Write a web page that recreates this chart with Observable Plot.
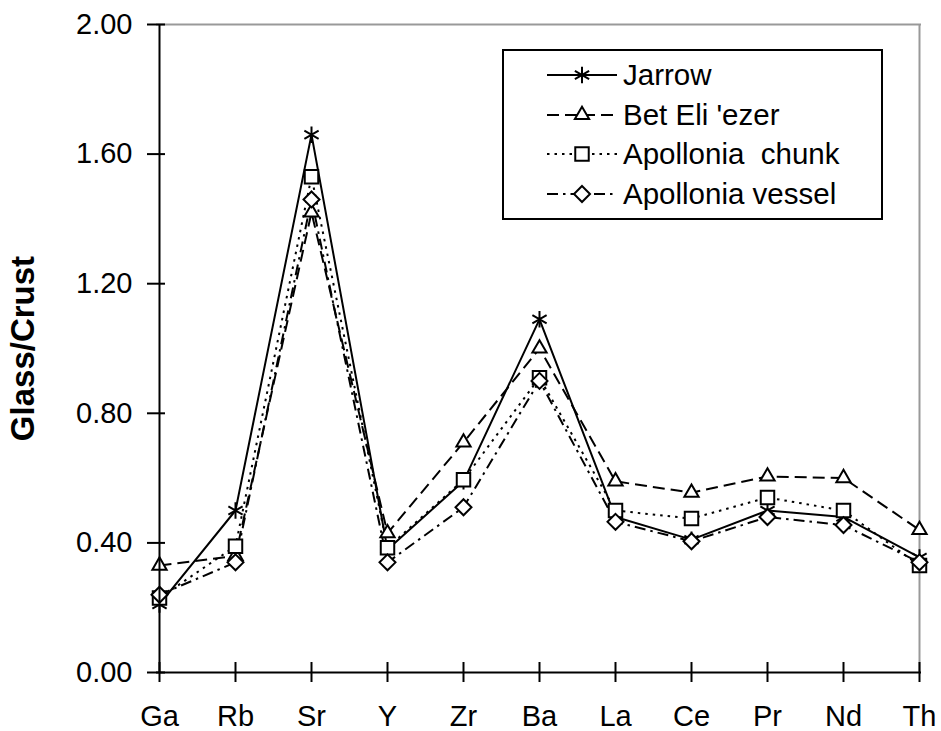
<!DOCTYPE html>
<html><head><meta charset="utf-8">
<script src="https://cdn.jsdelivr.net/npm/d3@7"></script>
<script src="https://cdn.jsdelivr.net/npm/@observablehq/plot@0.6"></script>
<style>
body{margin:0;background:#fff;}
#wrap{position:relative;width:941px;height:731px;font-family:"Liberation Sans",Arial,sans-serif;}
#legend{position:absolute;left:502px;top:49px;width:377px;height:167px;border:2px solid #000;background:#fff;}
.row{position:absolute;left:0;height:40px;width:100%;}
.row svg{position:absolute;left:43px;top:0;}
.row span{position:absolute;left:119px;top:3px;font-size:29.5px;line-height:34px;white-space:pre;color:#000;}
svg [aria-label="y-axis label"] text{font-weight:bold;font-size:33px;}
</style></head><body><div id="wrap"></div>
<script>
const elements = ["Ga","Rb","Sr","Y","Zr","Ba","La","Ce","Pr","Nd","Th"];
const jarrow          = [0.21,0.50,1.66,0.38,0.59,1.09,0.48,0.41,0.50,0.48,0.355];
const betEliezer      = [0.33,0.36,1.42,0.43,0.71,1.00,0.59,0.555,0.605,0.60,0.44];
const apolloniaChunk  = [0.23,0.39,1.53,0.385,0.595,0.91,0.50,0.475,0.54,0.50,0.33];
const apolloniaVessel = [0.24,0.34,1.46,0.34,0.51,0.90,0.465,0.405,0.48,0.455,0.34];
const seriesNames = ["Jarrow","Bet Eli 'ezer","Apollonia  chunk","Apollonia vessel"];
const yTicks = [0,0.4,0.8,1.2,1.6,2.0];

const seriesValues = [jarrow, betEliezer, apolloniaChunk, apolloniaVessel];
const table = [];
seriesNames.forEach((name, i) => elements.forEach((el, j) => table.push({series: name, element: el, value: seriesValues[i][j]})));

const styles = [
  {dash: null, symbol: "asterisk", d3sym: d3.symbolAsterisk, r: 7.8},
  {dash: "12,6", symbol: "triangle", d3sym: d3.symbolTriangle, r: 5.3},
  {dash: "2.5,5", symbol: "square", d3sym: d3.symbolSquare, r: 7.6},
  {dash: "11,5,2.5,5", symbol: "diamond2", d3sym: d3.symbolDiamond2, r: 7.2}
];

const marks = [
  Plot.ruleY([yTicks[yTicks.length-1]], {stroke: "#999", strokeWidth: 2}),
  Plot.ruleX([elements[elements.length-1]], {stroke: "#999", strokeWidth: 2})
];
seriesNames.forEach((name, i) => {
  marks.push(Plot.line(table.filter(d => d.series === name), {
    x: "element", y: "value", stroke: "#000", strokeWidth: 2,
    strokeDasharray: styles[i].dash, strokeLinecap: "butt"
  }));
});
seriesNames.forEach((name, i) => {
  marks.push(Plot.dot(table.filter(d => d.series === name), {
    x: "element", y: "value", symbol: styles[i].symbol, r: styles[i].r,
    stroke: "#000", strokeWidth: 2, fill: styles[i].symbol === "asterisk" ? "none" : "#fff"
  }));
});
marks.push(
  Plot.ruleX([elements[0]], {stroke: "#000", strokeWidth: 2}),
  Plot.ruleY([0], {stroke: "#000", strokeWidth: 2}),
  Plot.axisY({ticks: yTicks, tickSize: 18, dx: 9, strokeWidth: 2, tickFormat: () => "", label: null}),
  Plot.axisY({ticks: yTicks, tickSize: 0, tickPadding: 24, tickFormat: d => d.toFixed(2), fontSize: 29,
    label: "Glass/Crust", labelAnchor: "center", labelArrow: "none", labelOffset: 146}),
  Plot.axisX({tickSize: 20, dy: -10, strokeWidth: 2, tickFormat: () => "", label: null}),
  Plot.axisX({tickSize: 0, tickPadding: 33, fontSize: 29, label: null})
);

const chart = Plot.plot({
  width: 941, height: 731,
  marginLeft: 156, marginRight: 20, marginTop: 24, marginBottom: 59,
  x: {type: "point", domain: elements, padding: 0},
  y: {domain: [0, 2]},
  style: {fontFamily: "'Liberation Sans', Arial, sans-serif", fontSize: "29px", background: "#fff", color: "#000", overflow: "visible"},
  marks
});
const wrap = document.getElementById("wrap");
wrap.appendChild(chart);

const legend = document.createElement("div");
legend.id = "legend";
const rowTops = [4, 44, 83, 123];
seriesNames.forEach((name, i) => {
  const row = document.createElement("div");
  row.className = "row";
  row.style.top = rowTops[i] + "px";
  const s = d3.create("svg").attr("width", 72).attr("height", 40);
  s.append("line").attr("x1", 0).attr("x2", 70).attr("y1", 20).attr("y2", 20)
    .attr("stroke", "#000").attr("stroke-width", 2).attr("stroke-dasharray", styles[i].dash);
  const r = styles[i].r;
  s.append("path").attr("transform", "translate(35,20)")
    .attr("d", d3.symbol(styles[i].d3sym, Math.PI * r * r)())
    .attr("stroke", "#000").attr("stroke-width", 2)
    .attr("fill", styles[i].symbol === "asterisk" ? "none" : "#fff");
  row.appendChild(s.node());
  const t = document.createElement("span");
  t.textContent = name;
  row.appendChild(t);
  legend.appendChild(row);
});
wrap.appendChild(legend);
</script></body></html>
